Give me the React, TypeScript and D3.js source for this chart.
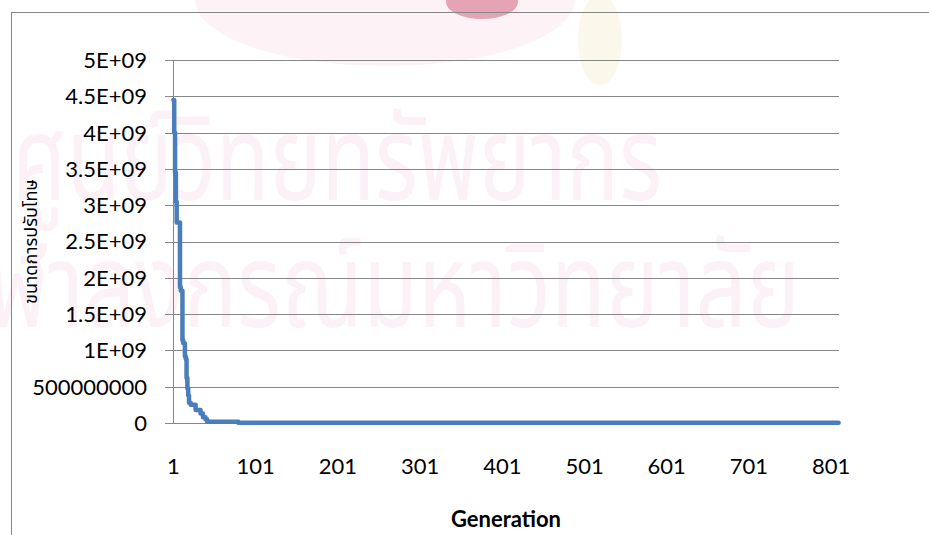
import React from "react";
import * as d3 from "d3";

// ---- data ----
const generations = [1, 2, 3, 4, 5, 9, 10, 12, 13, 15, 16, 17, 18, 19, 20, 22, 28, 34, 37, 40, 42, 80, 810];
const fitnessValues = [
  4.45e9, 4.0e9, 3.45e9, 3.05e9, 2.76e9, 1.87e9, 1.82e9, 1.14e9, 1.1e9, 0.92e9, 0.88e9, 0.62e9, 0.48e9,
  0.38e9, 0.28e9, 0.25e9, 0.18e9, 0.13e9, 0.08e9, 0.05e9, 0.018e9, 0.003e9, 0.003e9,
];
const yTickValues = [0, 5e8, 1e9, 1.5e9, 2e9, 2.5e9, 3e9, 3.5e9, 4e9, 4.5e9, 5e9];
const yTickLabels = ["0", "500000000", "1E+09", "1.5E+09", "2E+09", "2.5E+09", "3E+09", "3.5E+09", "4E+09", "4.5E+09", "5E+09"];
const xTickValues = [1, 101, 201, 301, 401, 501, 601, 701, 801];
const xTickLabels = ["1", "101", "201", "301", "401", "501", "601", "701", "801"];
const xTitle = "Generation";
const yTitle = "ขนาดการปรับโทษ";
const watermarkLines = ["ศูนย์วิทยทรัพยากร", "จุฬาลงกรณ์มหาวิทยาลัย"];

const W = 929;
const H = 535;
const plot = { left: 173, right: 839, top: 60, bottom: 423 };

export default function App() {
  const x = d3.scaleLinear().domain([1, 810]).range([plot.left + 0.4, plot.right - 0.4]);
  const y = d3.scaleLinear().domain([0, 5e9]).range([plot.bottom, plot.top]);
  const pts = generations.map((g, i) => [g, fitnessValues[i]] as [number, number]);
  const line = d3
    .line<[number, number]>()
    .x((d) => x(d[0]))
    .y((d) => y(d[1]))
    .curve(d3.curveStepAfter);
  const font = "Lato, 'Open Sans', sans-serif";
  const thaiFont = "'Noto Sans Thai', Tahoma, 'Noto Sans', sans-serif";

  return (
    <svg
      width={W}
      height={H}
      style={{ position: "absolute", left: 0, top: 0, background: "#fff" }}
      xmlns="http://www.w3.org/2000/svg"
    >
      {/* faint watermark */}
      <g pointerEvents="none">
        <ellipse cx={385} cy={0} rx={190} ry={66} fill="#fdf2f5" />
        <ellipse cx={482} cy={2} rx={36} ry={17} fill="#e6a3b3" />
        <ellipse cx={600} cy={40} rx={22} ry={45} fill="#fbf7ea" />
        <text x={12} y={200} fontFamily={thaiFont} fontSize={118} fill="#fbf1f6" textLength={650} lengthAdjust="spacingAndGlyphs">
          {watermarkLines[0]}
        </text>
        <text x={-60} y={327} fontFamily={thaiFont} fontSize={118} fill="#fbf1f6" textLength={860} lengthAdjust="spacingAndGlyphs">
          {watermarkLines[1]}
        </text>
      </g>

      {/* chart border */}
      <rect x={11.5} y={12.5} width={W + 20} height={H + 20} fill="none" stroke="#868686" strokeWidth={1} />

      {/* gridlines */}
      {yTickValues.map((v) => (
        <line
          key={v}
          x1={plot.left - 8}
          x2={plot.right}
          y1={Math.round(y(v)) + 0.5}
          y2={Math.round(y(v)) + 0.5}
          stroke="#868686"
          strokeWidth={1}
        />
      ))}
      {/* vertical axis */}
      <line x1={plot.left + 0.5} x2={plot.left + 0.5} y1={plot.top} y2={plot.bottom + 0.5} stroke="#868686" strokeWidth={1} />

      {/* y tick labels */}
      {yTickValues.map((v, i) => (
        <text
          key={"yl" + v}
          x={147}
          y={y(v)}
          dy="0.36em"
          textAnchor="end"
          fontFamily={font}
          fontSize={22}
          fill="#000"
        >
          {yTickLabels[i]}
        </text>
      ))}

      {/* x tick labels */}
      {xTickValues.map((v, i) => (
        <text key={"xl" + v} x={x(v)} y={474} textAnchor="middle" fontFamily={font} fontSize={22} fill="#000">
          {xTickLabels[i]}
        </text>
      ))}

      {/* series */}
      <path d={line(pts) ?? ""} fill="none" stroke="#4A7EBB" strokeWidth={4.5} strokeLinejoin="round" strokeLinecap="round" />

      {/* titles */}
      <text x={(plot.left + plot.right) / 2} y={527} textAnchor="middle" fontFamily={font} fontWeight="bold" fontSize={22} fill="#000">
        {xTitle}
      </text>
      <text
        transform={`translate(37, ${(plot.top + plot.bottom) / 2}) rotate(-90)`}
        textAnchor="middle"
        fontFamily={thaiFont}
        fontSize={18}
        fill="#000"
      >
        {yTitle}
      </text>
    </svg>
  );
}
